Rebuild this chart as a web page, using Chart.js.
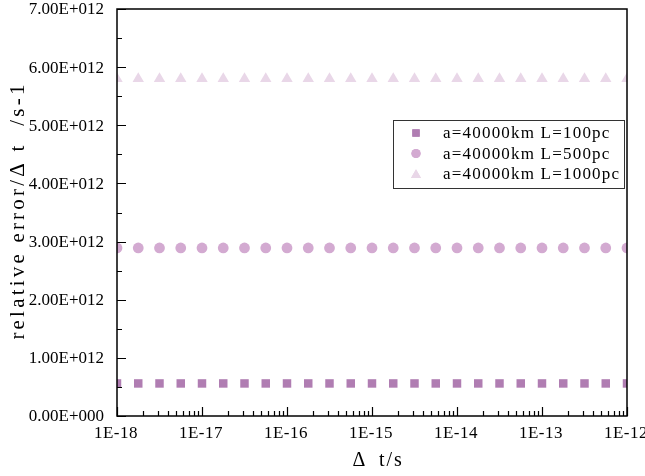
<!DOCTYPE html>
<html>
<head>
<meta charset="utf-8">
<script src="https://cdn.jsdelivr.net/npm/chart.js@4"></script>
<style>
  html, body { margin: 0; padding: 0; background: #fff; }
  #wrap { width: 645px; height: 476px; }
</style>
</head>
<body>
<div id="wrap"><canvas id="chart" width="645" height="476"></canvas></div>
<script>
// sampled time steps: 4 per decade from 1E-18 to 1E-12
const exps = [-18, -17.75, -17.5, -17.25, -17, -16.75, -16.5, -16.25, -16, -15.75, -15.5, -15.25,
  -15, -14.75, -14.5, -14.25, -14, -13.75, -13.5, -13.25, -13, -12.75, -12.5, -12.25, -12];
const seriesNames = ['a=40000km L=100pc', 'a=40000km L=500pc', 'a=40000km L=1000pc'];
const seriesLevels = [0.56e12, 2.89e12, 5.8e12];
const yTicks = [0, 1e12, 2e12, 3e12, 4e12, 5e12, 6e12, 7e12];
const xTicks = [1e-18, 1e-17, 1e-16, 1e-15, 1e-14, 1e-13, 1e-12];

const FONT = '"Liberation Serif", "DejaVu Serif", serif';
const colors = ['#b07db2', '#d3aad1', '#e9d7e8'];
const shapes = ['rect', 'circle', 'triangle'];
const radii = [6, 5.4, 6.6];

const datasets = seriesNames.map((name, i) => ({
  label: name,
  data: exps.map(e => ({ x: Math.pow(10, e), y: seriesLevels[i] })),
  backgroundColor: colors[i],
  borderColor: colors[i],
  borderWidth: 0,
  pointStyle: shapes[i],
  pointRadius: radii[i],
  showLine: false,
  clip: 0
}));

function fmtY(v) {
  if (v === 0) return '0.00E+000';
  const e = Math.floor(Math.log10(v) + 1e-9);
  const m = v / Math.pow(10, e);
  return m.toFixed(2) + 'E+' + String(e).padStart(3, '0');
}

const framePlugin = {
  id: 'frame',
  afterDraw(chart) {
    const ctx = chart.ctx;
    const a = chart.chartArea;
    const xs = chart.scales.x, ys = chart.scales.y;
    ctx.save();
    ctx.strokeStyle = '#000';
    ctx.lineWidth = 1.5;
    ctx.strokeRect(a.left, a.top, a.right - a.left, a.bottom - a.top);

    // y ticks, inward
    ctx.lineWidth = 1.2;
    ctx.beginPath();
    for (let v = 0; v <= 7e12 + 1; v += 0.5e12) {
      const py = Math.round(ys.getPixelForValue(v)) + 0.5;
      const major = Math.abs(v / 1e12 - Math.round(v / 1e12)) < 1e-6;
      ctx.moveTo(a.left, py);
      ctx.lineTo(a.left + (major ? 9 : 5), py);
    }
    // x ticks, inward
    for (let d = -18; d <= -12; d++) {
      for (let k = 1; k <= 9; k++) {
        if (d === -12 && k > 1) break;
        const px = Math.round(xs.getPixelForValue(k * Math.pow(10, d))) + 0.5;
        ctx.moveTo(px, a.bottom);
        ctx.lineTo(px, a.bottom - (k === 1 ? 9 : 5));
      }
    }
    ctx.stroke();

    // tick labels
    ctx.fillStyle = '#000';
    ctx.font = '17px ' + FONT;
    ctx.textBaseline = 'middle';
    ctx.textAlign = 'right';
    yTicks.forEach(v => ctx.fillText(fmtY(v), 104, ys.getPixelForValue(v) + 1));
    ctx.textAlign = 'center';
    ctx.letterSpacing = '0.5px';
    xTicks.forEach(v => {
      ctx.fillText('1E-' + Math.round(-Math.log10(v)), xs.getPixelForValue(v) - 1, 434);
    });

    // axis titles
    ctx.font = '20px ' + FONT;
    ctx.letterSpacing = '0px';
    ctx.fillText('\u0394', 359, 461);
    ctx.textAlign = 'left';
    ctx.letterSpacing = '2px';
    ctx.fillText('t/s', 379, 461);
    ctx.textAlign = 'center';
    ctx.save();
    ctx.translate(18, (a.top + a.bottom) / 2);
    ctx.rotate(-Math.PI / 2);
    ctx.font = '21px ' + FONT;
    ctx.letterSpacing = '3.2px';
    ctx.fillText('relative error/\u0394 t  /s-1', 2, 0);
    ctx.restore();

    // legend box
    const lx = 393, ly = 120, lw = 231, lh = 68;
    ctx.fillStyle = '#fff';
    ctx.fillRect(lx, ly, lw, lh);
    ctx.strokeStyle = '#333';
    ctx.lineWidth = 1;
    ctx.strokeRect(lx + 0.5, ly + 0.5, lw, lh);
    ctx.textAlign = 'left';
    ctx.font = '17px ' + FONT;
    ctx.letterSpacing = '1.2px';
    seriesNames.forEach((name, i) => {
      const cy = ly + 13 + i * 20.5;
      ctx.fillStyle = colors[i];
      ctx.beginPath();
      Chart.helpers.drawPoint(ctx, { pointStyle: shapes[i], radius: radii[i] - 0.8, borderWidth: 0 }, 416, cy + (i === 2 ? 1 : 0));
      ctx.fill();
      ctx.fillStyle = '#000';
      ctx.fillText(name, 443, cy + 1);
    });
    ctx.restore();
  }
};

new Chart(document.getElementById('chart'), {
  type: 'scatter',
  data: { datasets },
  options: {
    responsive: false,
    animation: false,
    layout: { padding: { top: 9, right: 18, left: 0, bottom: 0 } },
    plugins: { legend: { display: false }, tooltip: { enabled: false } },
    scales: {
      x: {
        type: 'logarithmic',
        min: 1e-18,
        max: 1e-12,
        afterBuildTicks: s => { s.ticks = xTicks.map(v => ({ value: v })); },
        afterFit: s => { s.height = 60; },
        grid: { display: false, drawTicks: false },
        border: { display: false },
        ticks: { display: false }
      },
      y: {
        min: 0,
        max: 7e12,
        afterBuildTicks: s => { s.ticks = yTicks.map(v => ({ value: v })); },
        afterFit: s => { s.width = 117; },
        grid: { display: false, drawTicks: false },
        border: { display: false },
        ticks: { display: false }
      }
    }
  },
  plugins: [framePlugin]
});
</script>
</body>
</html>
